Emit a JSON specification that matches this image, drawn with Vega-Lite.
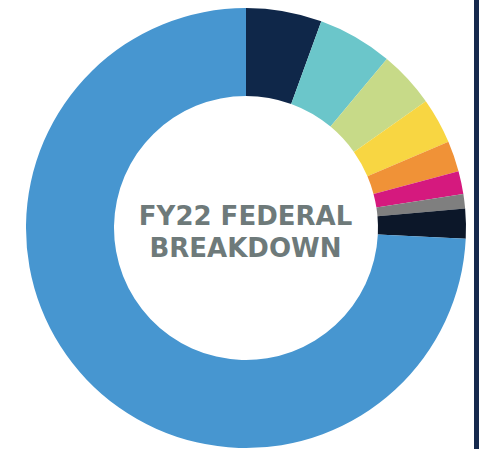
{
  "$schema": "https://vega.github.io/schema/vega-lite/v6.json",
  "padding": 0,
  "spacing": 0,
  "bounds": "flush",
  "background": "#ffffff",
  "config": {"view": {"stroke": null}},
  "datasets": {
    "slices": [
      {"category": "A", "idx": 1, "share": 5.56},
      {"category": "B", "idx": 2, "share": 5.5},
      {"category": "C", "idx": 3, "share": 4.17},
      {"category": "D", "idx": 4, "share": 3.36},
      {"category": "E", "idx": 5, "share": 2.25},
      {"category": "F", "idx": 6, "share": 1.69},
      {"category": "G", "idx": 7, "share": 1.06},
      {"category": "H", "idx": 8, "share": 2.19},
      {"category": "I", "idx": 9, "share": 74.22}
    ],
    "title": [{"label": "FY22 FEDERAL\nBREAKDOWN"}],
    "frame": [{"part": "edge"}]
  },
  "hconcat": [
    {
      "width": 474,
      "height": 449,
      "layer": [
        {
          "data": {"name": "slices"},
          "mark": {"type": "arc", "outerRadius": 220, "innerRadius": 132, "xOffset": 9, "yOffset": 3.5, "stroke": null},
          "encoding": {
            "theta": {"field": "share", "type": "quantitative", "stack": true},
            "order": {"field": "idx", "type": "quantitative"},
            "color": {
              "field": "category",
              "type": "nominal",
              "legend": null,
              "scale": {
                "domain": ["A", "B", "C", "D", "E", "F", "G", "H", "I"],
                "range": ["#0f2749", "#6bc6ca", "#c7da88", "#f8d642", "#f09237", "#d5197e", "#7f7f7f", "#0c1729", "#4796d0"]
              }
            }
          }
        },
        {
          "data": {"name": "title"},
          "mark": {"type": "text", "lineBreak": "\n", "lineHeight": 32, "font": "DejaVu Sans", "fontWeight": "bold", "fontSize": 26, "color": "#6e7a7a", "align": "center", "baseline": "middle", "xOffset": 8.5, "yOffset": -8},
          "encoding": {"text": {"field": "label", "type": "nominal"}}
        }
      ]
    },
    {
      "width": 5,
      "height": 449,
      "data": {"name": "frame"},
      "mark": {"type": "rect", "color": "#15294d"},
      "encoding": {}
    }
  ]
}
